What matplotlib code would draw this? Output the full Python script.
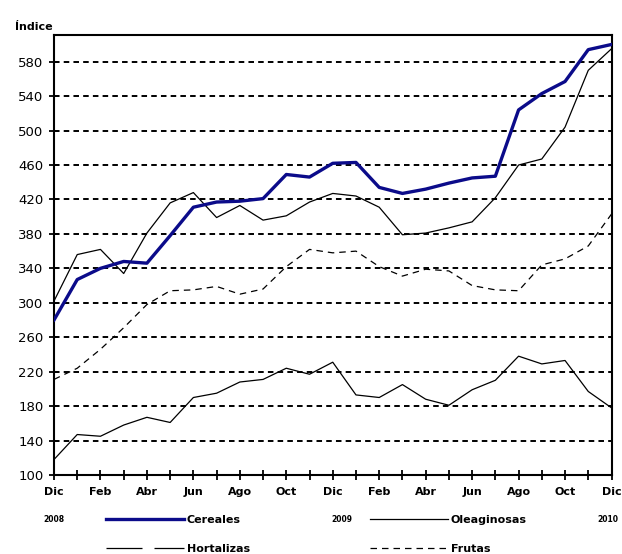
import matplotlib.pyplot as plt
from matplotlib.lines import Line2D
import numpy as np

# meses dic-2008 .. dic-2010
months = np.arange(25)
month_labels = ["Dic", "Feb", "Abr", "Jun", "Ago", "Oct",
                "Dic", "Feb", "Abr", "Jun", "Ago", "Oct", "Dic"]
years = ["2008", "2009", "2010"]

cereales = [280, 327, 340, 348, 346, 378, 411, 417, 418, 421, 449, 446, 462,
            463, 434, 427, 432, 439, 445, 447, 524, 543, 557, 594, 600]
oleaginosas = [302, 356, 362, 334, 381, 416, 428, 399, 413, 396, 401, 417, 427,
               424, 411, 379, 381, 387, 394, 422, 460, 467, 504, 570, 595]
frutas = [211, 224, 246, 271, 298, 314, 315, 319, 310, 316, 342, 362, 358,
          360, 342, 331, 339, 337, 320, 315, 314, 344, 351, 366, 403]
hortalizas = [118, 147, 145, 158, 167, 161, 190, 195, 208, 211, 224, 217, 231,
              193, 190, 205, 188, 181, 199, 210, 238, 229, 233, 197, 178]

W, H = 622, 554
fig = plt.figure(figsize=(W / 100, H / 100), dpi=100)
ax = fig.add_axes([54 / W, 1 - 475 / H, (611.5 - 54) / W, (475 - 35) / H])

blue = "#0B0B8A"
frutas_ls = (0, (5.2, 4.0))
ax.plot(months, oleaginosas, color="black", lw=0.9, zorder=3)
ax.plot(months, hortalizas, color="black", lw=0.9, zorder=3)
ax.plot(months, frutas, color="black", lw=0.9, ls=frutas_ls, zorder=3)
ax.plot(months, cereales, color=blue, lw=2.4, zorder=4)

ax.set_xlim(0, 24)
ax.set_ylim(100, 611)
ax.set_yticks(np.arange(100, 581, 40))
ax.set_xticks(months)
ax.set_xticklabels([month_labels[i // 2] if i % 2 == 0 else "" for i in months],
                   fontsize=8, fontweight="bold")
ax.tick_params(axis="x", direction="inout", length=7, width=1.3, pad=5)
ax.tick_params(axis="y", direction="inout", length=7, width=1.3, pad=4,
               labelsize=9.5)
ax.yaxis.grid(True, color="black", lw=1.4, ls=(0, (2.85, 2.15)))
ax.set_axisbelow(True)
for s in ax.spines.values():
    s.set_linewidth(1.5)

fig.text(15 / W, 1 - 30 / H, "Índice", fontsize=8, fontweight="bold",
         va="baseline", ha="left")

# años bajo los Dic
for xp, yr in zip([54, 342, 608], years):
    fig.text(xp / W, 1 - 519 / H, yr, fontsize=5.5, fontweight="bold",
             ha="center", va="center")

h_cer = Line2D([], [], color=blue, lw=2.4)
h_hor = Line2D([], [], color="black", lw=0.9, ls=(0, (28.8, 9.6)))
h_ole = Line2D([], [], color="black", lw=0.9)
h_fru = Line2D([], [], color="black", lw=0.9, ls=frutas_ls)

leg_kw = dict(frameon=False, handlelength=7.0, handletextpad=0.25,
              borderpad=0, borderaxespad=0, labelspacing=1.72, loc="upper left",
              prop={"weight": "bold", "size": 8})
fig.legend([h_cer, h_hor], ["Cereales", "Hortalizas"],
           bbox_to_anchor=(106 / W, 1 - 515 / H), **leg_kw)
fig.legend([h_ole, h_fru], ["Oleaginosas", "Frutas"],
           bbox_to_anchor=(370 / W, 1 - 515 / H), **leg_kw)

fig.savefig("out.png", dpi=100)
